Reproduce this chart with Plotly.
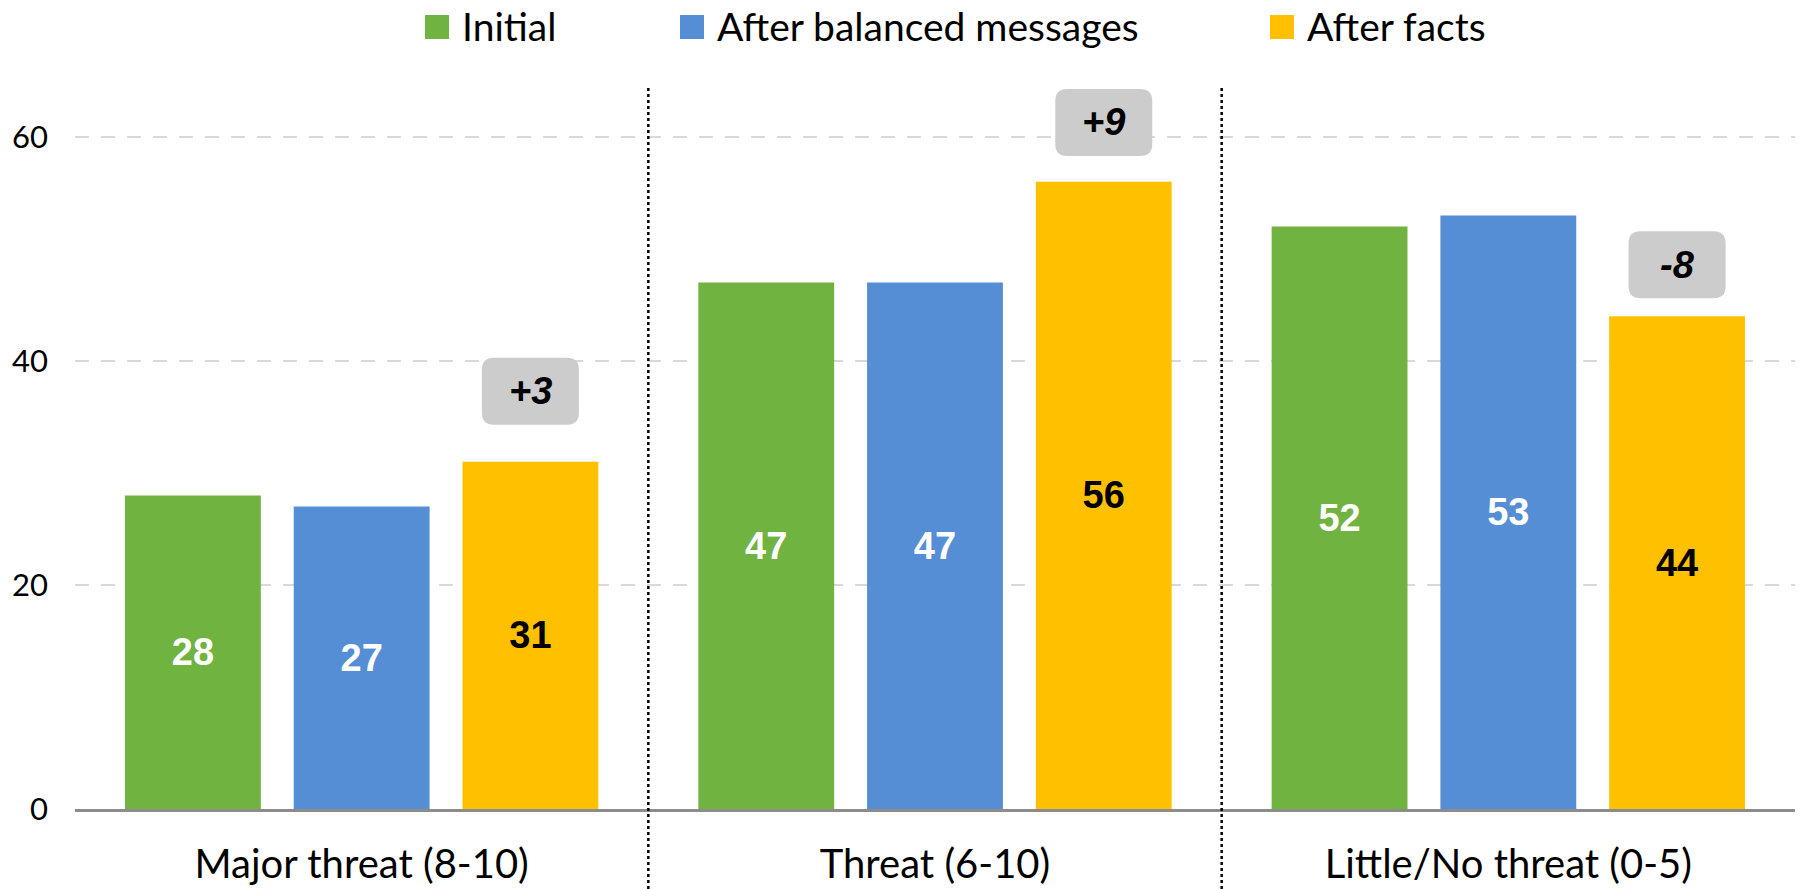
import plotly.graph_objects as go

categories = ["Major threat (8-10)", "Threat (6-10)", "Little/No threat (0-5)"]
series_names = ["Initial", "After balanced messages", "After facts"]
initial = [28, 47, 52]
balanced = [27, 47, 53]
facts = [31, 56, 44]
y_ticks = [0, 20, 40, 60]

# ---- layout-only settings ----
delta_box_y = [37.3, 61.3, 48.6]
colors = ["#70B340", "#558ED5", "#FFC000"]
text_colors = ["white", "white", "black"]
W, H = 1808, 889
ML, MR, MT, MB = 75, 13, 81, 80
Y_RANGE = [0, 65]
BARGAP = 0.117
BARGROUPGAP = 0.195
LABEL_FONT = "Lato, Open Sans, sans-serif"
ARIAL = "Liberation Sans, Arial, sans-serif"
legend_sq_px = [425, 680, 1270]   # left edge of legend swatches (pixels)
LEG_SQ = 24
LEG_Y = 27                        # vertical centre of legend swatches (pixels)
LEG_TEXT_Y = 26                   # vertical centre of legend label boxes (pixels)

plot_w = W - ML - MR
plot_h = H - MT - MB


def px_to_paper_x(px):
    return (px - ML) / plot_w


def px_to_paper_y(py):
    return (H - MB - py) / plot_h


fig = go.Figure()
for name, vals, c, tc in zip(series_names, [initial, balanced, facts], colors, text_colors):
    fig.add_trace(go.Bar(
        x=categories, y=vals, name=name,
        marker=dict(color=c, line=dict(width=0)),
        text=[str(v) for v in vals], textposition="inside",
        insidetextanchor="middle", textangle=0,
        textfont=dict(family=ARIAL, size=38, color=tc, weight="bold"),
    ))

shapes = []
annotations = []

# delta boxes (rounded) above the "After facts" bars
px_x = plot_w / len(categories)
px_y = plot_h / (Y_RANGE[1] - Y_RANGE[0])
slot = (1 - BARGAP) / 3
half_w, half_h, rad = 48.5 / px_x, 33.5 / px_y, 12
rx, ry = rad / px_x, rad / px_y
for i, cat in enumerate(categories):
    d = facts[i] - initial[i]
    xc = i + slot
    yc = delta_box_y[i]
    x0, x1 = xc - half_w, xc + half_w
    y0, y1 = yc - half_h, yc + half_h
    path = (f"M{x0+rx},{y0} L{x1-rx},{y0} Q{x1},{y0} {x1},{y0+ry} "
            f"L{x1},{y1-ry} Q{x1},{y1} {x1-rx},{y1} L{x0+rx},{y1} "
            f"Q{x0},{y1} {x0},{y1-ry} L{x0},{y0+ry} Q{x0},{y0} {x0+rx},{y0} Z")
    shapes.append(dict(type="path", path=path, xref="x", yref="y",
                       fillcolor="#CCCCCC", line=dict(width=0), layer="above"))
    annotations.append(dict(x=xc, y=yc, xref="x", yref="y", showarrow=False,
                            text=f"<b><i>{d:+d}</i></b>",
                            font=dict(family=ARIAL, size=38, color="black")))

# dotted dividers between categories
for k in range(1, len(categories)):
    shapes.append(dict(type="line", xref="x", yref="paper", x0=k - 0.5, x1=k - 0.5,
                       y0=-0.11, y1=0.993, line=dict(color="black", width=2.5, dash="dot"),
                       layer="above"))

# legend (swatch + label)
for name, c, sx in zip(series_names, colors, legend_sq_px):
    shapes.append(dict(type="rect", xref="paper", yref="paper",
                       x0=px_to_paper_x(sx), x1=px_to_paper_x(sx + LEG_SQ),
                       y0=px_to_paper_y(LEG_Y + LEG_SQ / 2), y1=px_to_paper_y(LEG_Y - LEG_SQ / 2),
                       fillcolor=c, line=dict(width=0)))
    annotations.append(dict(x=px_to_paper_x(sx + LEG_SQ + 11), y=px_to_paper_y(LEG_TEXT_Y),
                            xref="paper", yref="paper", xanchor="left", yanchor="middle",
                            showarrow=False, text=name,
                            font=dict(family=LABEL_FONT, size=39, color="black")))

fig.update_layout(
    width=W, height=H,
    margin=dict(l=ML, r=MR, t=MT, b=MB, autoexpand=False),
    paper_bgcolor="white", plot_bgcolor="white",
    barmode="group", bargap=BARGAP, bargroupgap=BARGROUPGAP,
    showlegend=False,
    shapes=shapes, annotations=annotations,
    xaxis=dict(type="category", showline=True, linecolor="#8C8C8C", linewidth=3,
               tickfont=dict(family=LABEL_FONT, size=40, color="black"),
               ticks="", showgrid=False, range=[-0.5, 2.5], ticklabelstandoff=18,
               automargin=False),
    yaxis=dict(range=Y_RANGE, tickvals=y_ticks, showline=False, zeroline=False,
               showgrid=True, gridcolor="#D9D9D9", gridwidth=2, griddash="14px,12px",
               tickfont=dict(family=LABEL_FONT, size=31, color="black"),
               ticklabelstandoff=26, automargin=False),
)

fig.write_html("out.html", config={"displayModeBar": False},
               post_script="document.body.style.margin='0px';")
